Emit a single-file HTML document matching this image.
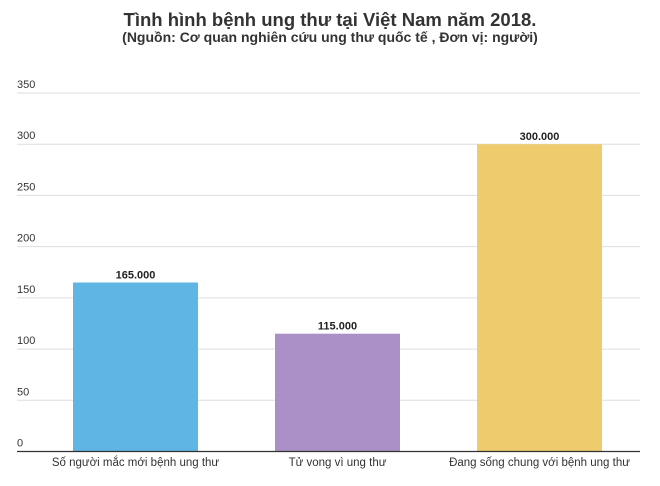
<!DOCTYPE html>
<html><head><meta charset="utf-8"><style>
html,body{margin:0;padding:0;background:#fff;width:660px;height:486px;overflow:hidden}
svg{display:block;font-family:"Liberation Sans",sans-serif}
</style></head><body>
<svg id="chart" width="660" height="486">
<text x="330" y="26" text-anchor="middle" font-size="18.5" font-weight="bold" fill="#333">Tình hình bệnh ung thư tại Việt Nam năm 2018.</text>
<text x="330" y="42" text-anchor="middle" font-size="14" font-weight="bold" fill="#333">(Nguồn: Cơ quan nghiên cứu ung thư quốc tế , Đơn vị: người)</text>
<g id="grid"></g><g id="bars"></g>
</svg>
<script>
const categories = ["Số người mắc mới bệnh ung thư","Tử vong vì ung thư","Đang sống chung với bệnh ung thư"];
const values = [165, 115, 300];
const valueLabels = ["165.000","115.000","300.000"];
const ticks = [0,50,100,150,200,250,300,350];
const colors = ["#5fb6e5","#ab90c8","#eecb6c"];
const NS="http://www.w3.org/2000/svg";
const y0=451.5, yTop=93, vMax=350;
const y=v=>y0-(v/vMax)*(y0-yTop);
const xStart=17, xEnd=640, bandW=(xEnd-xStart)/3, barW=125;
const bandC=i=>135.5+i*202;
const grid=document.getElementById('grid'), bars=document.getElementById('bars');
function mk(tag,attrs,parent){const e=document.createElementNS(NS,tag);for(const k in attrs)e.setAttribute(k,attrs[k]);parent.appendChild(e);return e;}
ticks.forEach(t=>{
  if(t>0){const l=mk('line',{x1:xStart,x2:xEnd,y1:y(t),y2:y(t),stroke:'#dedede','stroke-width':1},grid);
  
  }
  const tx=mk('text',{x:17,y:y(t)-5,'font-size':11,fill:'#333'},grid);
  tx.textContent=t;
  
  
});
values.forEach((v,i)=>{
  const cx=bandC(i);
  const r=mk('rect',{x:cx-barW/2,y:y(v),width:barW,height:y0-y(v),fill:colors[i]},bars);
  
  
  const vl=mk('text',{x:cx,y:y(v)-4,'text-anchor':'middle','font-size':11,'font-weight':'bold',fill:'#222'},bars);
  vl.textContent=valueLabels[i];
  
  
  const cl=mk('text',{x:cx,y:466,'text-anchor':'middle','font-size':11.5,fill:'#333'},bars);
  cl.textContent=categories[i];
  
  
});
const ax=mk('line',{x1:xStart,x2:xEnd,y1:y0,y2:y0,stroke:'#333','stroke-width':1.2},bars);


</script>
</body></html>
